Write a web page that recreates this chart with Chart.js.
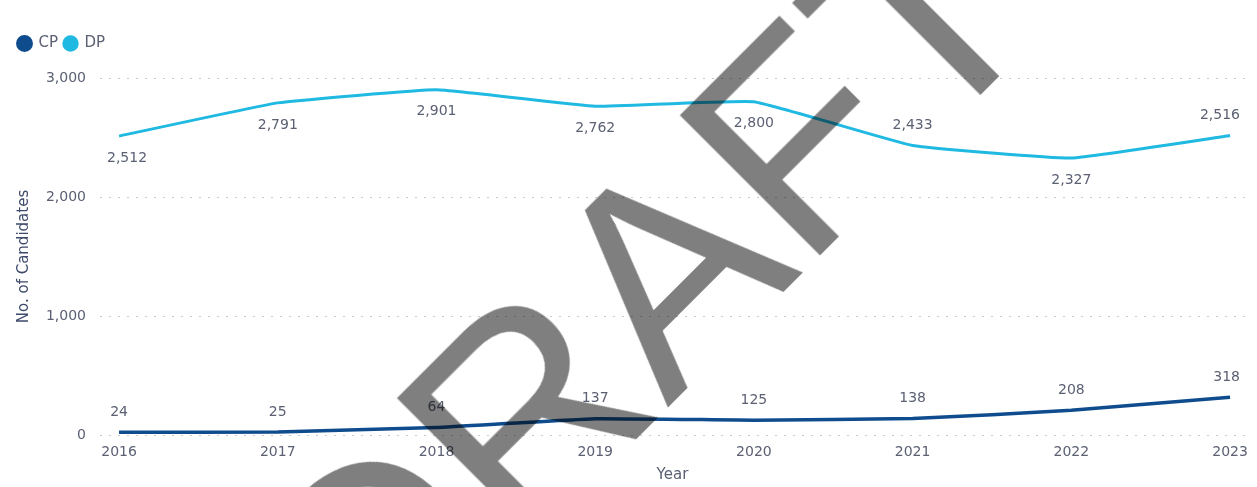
<!DOCTYPE html>
<html>
<head>
<meta charset="utf-8">
<script src="https://cdn.jsdelivr.net/npm/chart.js@4.4.0/dist/chart.umd.min.js"></script>
<style>
  html, body { margin: 0; padding: 0; background: #fff; }
  #wrap { position: relative; width: 1257px; height: 487px; overflow: hidden; }
  #wrap canvas { display: block; }
  /* watermark sits over the chart, half transparent */
  #draft {
    position: absolute; left: 642px; top: 292px;
    transform: translate(-50%, -50%) rotate(-45deg);
    font-family: "Liberation Sans", Arial, sans-serif;
    font-size: 288px; line-height: 1;
    color: rgba(0, 0, 0, 0.5);
    white-space: nowrap; pointer-events: none;
  }
</style>
</head>
<body>
<div id="wrap">
  <canvas id="chart" width="1257" height="487"></canvas>
  <div id="draft">DRAFT</div>
</div>
<script>
// values
const years = [2016, 2017, 2018, 2019, 2020, 2021, 2022, 2023];
const cpValues = [24, 25, 64, 137, 125, 138, 208, 318];
const dpValues = [2512, 2791, 2901, 2762, 2800, 2433, 2327, 2516];
const seriesNames = ['CP', 'DP'];

const textColor = '#5b6073';
const titleColor = '#3d4a6b';
const fontFamily = '"DejaVu Sans", sans-serif';

const toPoints = (vals) => vals.map((v, i) => ({ x: years[i], y: v }));

// value labels next to each point (no datalabels plugin available)
const pointLabels = {
  id: 'pointLabels',
  afterDatasetsDraw(chart) {
    const { ctx, chartArea } = chart;
    ctx.save();
    ctx.font = '14px ' + fontFamily;
    ctx.fillStyle = textColor;
    ctx.textAlign = 'center';
    ctx.textBaseline = 'middle';
    chart.data.datasets.forEach((ds, i) => {
      const meta = chart.getDatasetMeta(i);
      meta.data.forEach((pt, j) => {
        const txt = ds.data[j].y.toLocaleString('en-US');
        const w = ctx.measureText(txt).width;
        const below = ds.labelBelow && ds.labelBelow[j];
        const x = Math.min(Math.max(pt.x, chartArea.left + w / 2 + 7), chartArea.right - w / 2 - 5);
        const y = below ? pt.y + 22 : pt.y - 20;
        ctx.fillText(txt, x, y);
      });
    });
    ctx.restore();
  }
};

// give the legend a fixed height so the plot starts where it does in the picture
const legendHeight = {
  id: 'legendHeight',
  beforeInit(chart) {
    const fit = chart.legend.fit;
    chart.legend.fit = function () {
      fit.bind(chart.legend)();
      this.height = 48;
    };
  }
};

new Chart(document.getElementById('chart'), {
  type: 'line',
  data: {
    datasets: [
      {
        label: seriesNames[0],
        data: toPoints(cpValues),
        borderColor: '#0f4c8d',
        backgroundColor: '#0f4c8d',
        borderWidth: 3.5,
        pointRadius: 0,
        tension: 0.1,
      },
      {
        label: seriesNames[1],
        data: toPoints(dpValues),
        borderColor: '#1fb9e1',
        backgroundColor: '#1fb9e1',
        borderWidth: 3,
        pointRadius: 0,
        tension: 0.1,
        labelBelow: [true, true, true, true, true, false, true, false],
      },
    ],
  },
  options: {
    responsive: false,
    animation: false,
    layout: { padding: { top: 30, left: 12, right: 10, bottom: 0 } },
    plugins: {
      tooltip: { enabled: false },
      legend: {
        align: 'start',
        labels: {
          usePointStyle: true,
          pointStyle: 'circle',
          boxWidth: 13,
          boxHeight: 9.5,
          padding: 6,
          color: textColor,
          font: { family: fontFamily, size: 15 },
        },
      },
    },
    scales: {
      x: {
        type: 'linear',
        min: 2015.88,
        max: 2023.094,
        afterFit: (s) => { s.height = 52; },
        grid: { display: false, drawTicks: false },
        border: { display: false },
        ticks: {
          stepSize: 1,
          includeBounds: false,
          padding: 9,
          color: textColor,
          font: { family: fontFamily, size: 14 },
          callback: (v) => String(v),
        },
        title: {
          display: true,
          text: 'Year',
          color: textColor,
          padding: { top: 0, bottom: 3 },
          font: { family: fontFamily, size: 15 },
        },
      },
      y: {
        min: 0,
        max: 3000,
        afterFit: (s) => { s.width = 88; },
        grid: { color: '#c9c9c9', lineWidth: 1, drawTicks: false },
        border: { display: false, dash: [2, 7] },
        ticks: {
          stepSize: 1000,
          padding: 14,
          color: textColor,
          font: { family: fontFamily, size: 14 },
          callback: (v) => v.toLocaleString('en-US'),
        },
        title: {
          display: true,
          text: 'No. of Candidates',
          color: titleColor,
          padding: { top: 3, bottom: 0 },
          font: { family: fontFamily, size: 15 },
        },
      },
    },
  },
  plugins: [pointLabels, legendHeight],
});
</script>
</body>
</html>
